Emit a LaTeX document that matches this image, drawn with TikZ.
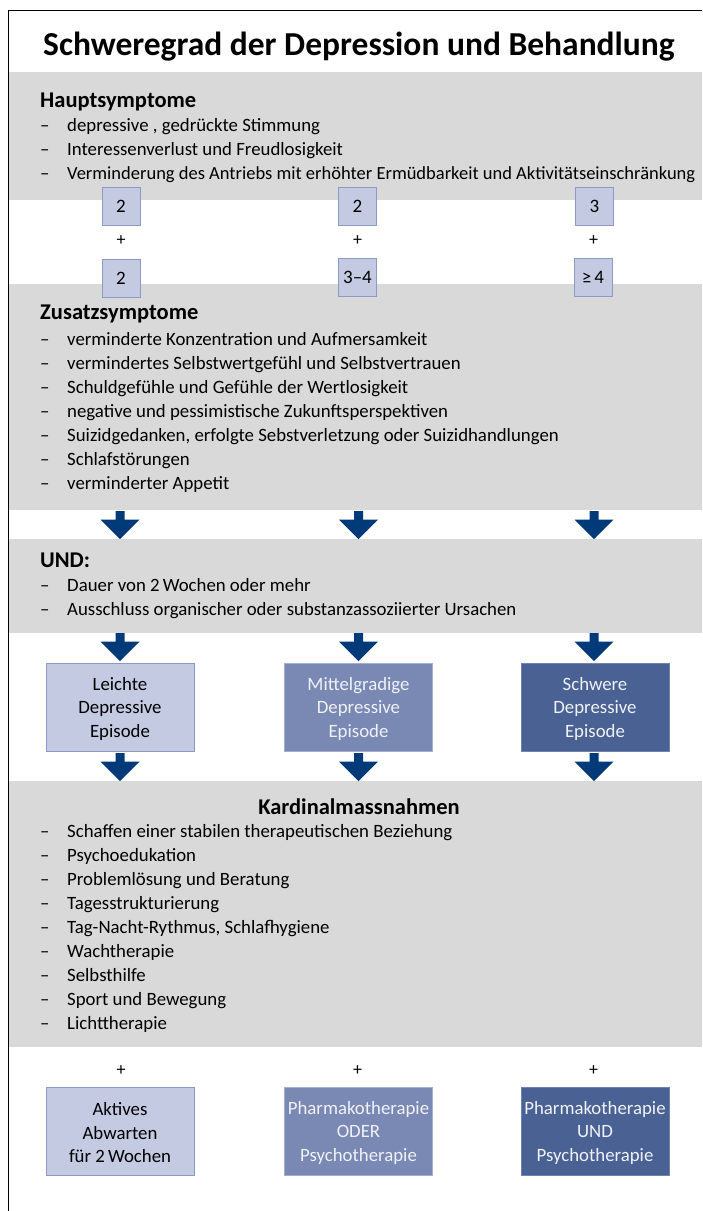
\documentclass[tikz,border=0pt]{standalone}
\usepackage{fontspec}
\setmainfont{Carlito}
\definecolor{bandgray}{HTML}{D9D9D9}
\definecolor{navy}{HTML}{003A78}
\definecolor{lightfill}{HTML}{C5CAE3}
\definecolor{lightborder}{HTML}{8C99C6}
\definecolor{midfill}{HTML}{7A88B4}
\definecolor{midborder}{HTML}{A3AED0}
\definecolor{darkfill}{HTML}{4A6193}
\definecolor{darkborder}{HTML}{6F82B0}
\definecolor{paletext}{HTML}{F0F2F7}
\tikzset{
  body/.style={font=\fontsize{18.8}{22}\selectfont, inner sep=0pt},
  li/.style={body, anchor=mid west},
  head/.style={font=\fontsize{22.5}{26}\selectfont\bfseries, inner sep=0pt, anchor=mid west},
  band/.style={fill=bandgray, draw=none, anchor=north west, minimum width=693pt, inner sep=0pt},
  smallbox/.style={font=\fontsize{19}{22}\selectfont, draw=lightborder, fill=lightfill, line width=0.9pt, minimum width=38pt, minimum height=38pt, inner sep=0pt},
  plus/.style={font=\fontsize{18}{20}\selectfont, inner sep=0pt},
  epi/.style={font=\fontsize{18.8}{23.5}\selectfont, align=center, minimum width=148pt, minimum height=88pt, line width=0.9pt, inner sep=0pt},
  epilight/.style={epi, fill=lightfill, draw=lightborder, text=black},
  epimid/.style={epi, fill=midfill, draw=midborder, text=paletext},
  epidark/.style={epi, fill=darkfill, draw=darkborder, text=paletext},
  downarrow/.pic={\fill[navy] (-4.5,0) -- (4.5,0) -- (4.5,8.5) -- (19.5,8.5) -- (0,28) -- (-19.5,8.5) -- (-4.5,8.5) -- cycle;}
}
\newcommand{\litem}[3]{\node[li] (#1d) at (40,#2+3) {–}; \node[li] (#1) at (67,#2+3) {#3};}
\begin{document}
\begin{tikzpicture}[x=1pt,y=-1pt]
\useasboundingbox (0,0) rectangle (702,1211);
% frame
\draw[line width=1pt] (8.5,1211) -- (8.5,10.5) -- (702,10.5);
% title
\node[font=\fontsize{33.5}{38}\selectfont\bfseries, inner sep=0pt] (title) at (359,47) {Schweregrad der Depression und Behandlung};
% bands
\node[band, minimum height=128pt] (band1) at (9,72) {};
\node[band, minimum height=226pt] (band2) at (9,284) {};
\node[band, minimum height=94pt] (band3) at (9,539) {};
\node[band, minimum height=266pt] (band4) at (9,781) {};
% Hauptsymptome
\node[head] (hs) at (40,105) {Hauptsymptome};
\litem{h1}{126}{depressive , gedrückte Stimmung}
\litem{h2}{150}{Interessenverlust und Freudlosigkeit}
\node[li] (h3d) at (40,177) {–};
\node[li, font=\fontsize{18.5}{22}\selectfont] (h3) at (67,177) {Verminderung des Antriebs mit erhöhter Ermüdbarkeit und Aktivitätseinschränkung};
% small boxes
\node[smallbox] (s1a) at (121,206) {2};
\node[smallbox] (s2a) at (357.5,206) {2};
\node[smallbox] (s3a) at (594.5,206) {3};
\node[plus] (p1a) at (121,241) {+};
\node[plus] (p2a) at (357.5,241) {+};
\node[plus] (p3a) at (593.5,241) {+};
\node[smallbox] (s1b) at (121,278) {2};
\node[smallbox] (s2b) at (357.5,277) {3–4};
\node[smallbox] (s3b) at (593,277) {≥\,4};
% Zusatzsymptome
\node[head] (zs) at (40,317) {Zusatzsymptome};
\litem{z1}{340}{verminderte Konzentration und Aufmersamkeit}
\litem{z2}{364}{vermindertes Selbstwertgefühl und Selbstvertrauen}
\litem{z3}{388}{Schuldgefühle und Gefühle der Wertlosigkeit}
\litem{z4}{412}{negative und pessimistische Zukunftsperspektiven}
\litem{z5}{436}{Suizidgedanken, erfolgte Sebstverletzung oder Suizidhandlungen}
\litem{z6}{460}{Schlafstörungen}
\litem{z7}{484}{verminderter Appetit}
% arrows row 1
\pic at (120,511) {downarrow};
\pic at (358.5,511) {downarrow};
\pic at (594,511) {downarrow};
% UND
\node[head] (und) at (40,565) {UND:};
\litem{u1}{586}{Dauer von 2\,Wochen oder mehr}
\litem{u2}{610}{Ausschluss organischer oder substanzassoziierter Ursachen}
% arrows row 2
\pic at (120,633) {downarrow};
\pic at (358.5,633) {downarrow};
\pic at (594,633) {downarrow};
% episode boxes
\node[epilight] (e1) at (120,707) {\strut Leichte\\Depressive\\Episode};
\node[epimid] (e2) at (358.5,707) {\strut Mittelgradige\\Depressive\\Episode};
\node[epidark] (e3) at (595,707) {\strut Schwere\\Depressive\\Episode};
% arrows row 3
\pic at (120,753) {downarrow};
\pic at (358.5,753) {downarrow};
\pic at (594,753) {downarrow};
% Kardinalmassnahmen
\node[head, anchor=center] (km) at (359,807) {Kardinalmassnahmen};
\litem{k1}{832}{Schaffen einer stabilen therapeutischen Beziehung}
\litem{k2}{856}{Psychoedukation}
\litem{k3}{880}{Problemlösung und Beratung}
\litem{k4}{904}{Tagesstrukturierung}
\litem{k5}{928}{Tag-Nacht-Rythmus, Schlafhygiene}
\litem{k6}{952}{Wachtherapie}
\litem{k7}{976}{Selbsthilfe}
\litem{k8}{1000}{Sport und Bewegung}
\litem{k9}{1024}{Lichttherapie}
% bottom
\node[plus] (p1c) at (121,1071) {+};
\node[plus] (p2c) at (357.5,1071) {+};
\node[plus] (p3c) at (593.5,1071) {+};
\node[epilight] (t1) at (120,1131) {\strut Aktives\\Abwarten\\für 2\,Wochen};
\node[epimid] (t2) at (358.5,1131) {\strut Pharmakotherapie\\ODER\\Psychotherapie};
\node[epidark] (t3) at (595,1131) {\strut Pharmakotherapie\\UND\\Psychotherapie};
\end{tikzpicture}
\end{document}
